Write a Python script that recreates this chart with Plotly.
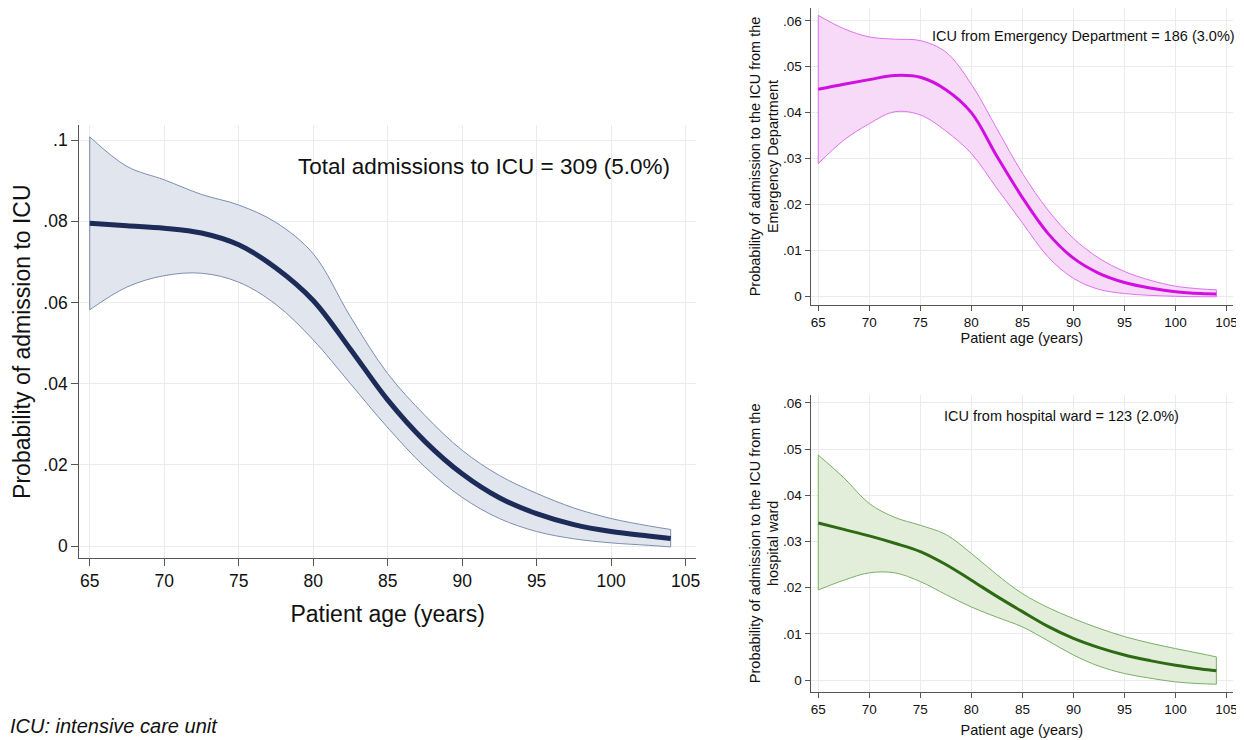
import plotly.graph_objects as go

ages = [65, 67.5, 70, 72.5, 75, 77.5, 80, 82.5, 85, 87.5, 90, 92.5, 95, 97.5, 100, 102.5, 104]

total_est = [0.0795, 0.0789, 0.0783, 0.0771, 0.0742, 0.0685, 0.0605, 0.0485, 0.0360, 0.0258, 0.0178,
             0.0119, 0.0080, 0.0053, 0.0036, 0.0025, 0.0019]
total_hi = [0.1008, 0.0935, 0.0902, 0.0866, 0.0840, 0.0797, 0.0720, 0.0565, 0.0425, 0.0322, 0.0236,
            0.0174, 0.0130, 0.0094, 0.0068, 0.0050, 0.0041]
total_lo = [0.0582, 0.0638, 0.0666, 0.0672, 0.0650, 0.0595, 0.0508, 0.0400, 0.0292, 0.0195, 0.0120,
            0.0068, 0.0036, 0.0018, 0.0008, 0.0002, -0.0002]

ed_est = [0.0451, 0.0462, 0.0472, 0.0481, 0.0477, 0.0450, 0.0400, 0.0305, 0.0215, 0.0137, 0.0083,
          0.0050, 0.0030, 0.0018, 0.0010, 0.0006, 0.0005]
ed_hi = [0.0612, 0.0583, 0.0565, 0.0560, 0.0557, 0.0532, 0.0462, 0.0365, 0.0268, 0.0188, 0.0126,
         0.0083, 0.0054, 0.0035, 0.0022, 0.0016, 0.0014]
ed_lo = [0.0289, 0.0340, 0.0376, 0.0402, 0.0395, 0.0360, 0.0311, 0.0235, 0.0160, 0.0086, 0.0039,
         0.0015, 0.0006, 0.0002, 0.0000, -0.0001, -0.0001]

ward_est = [0.0340, 0.0326, 0.0312, 0.0296, 0.0278, 0.0250, 0.0216, 0.0181, 0.0148, 0.0116, 0.0090,
            0.0070, 0.0054, 0.0042, 0.0032, 0.0024, 0.0020]
ward_hi = [0.0487, 0.0438, 0.0382, 0.0352, 0.0335, 0.0315, 0.0274, 0.0228, 0.0187, 0.0157, 0.0133,
           0.0112, 0.0094, 0.0080, 0.0068, 0.0057, 0.0050]
ward_lo = [0.0195, 0.0216, 0.0232, 0.0232, 0.0213, 0.0185, 0.0158, 0.0136, 0.0115, 0.0085, 0.0054,
           0.0030, 0.0014, 0.0004, -0.0004, -0.0008, -0.0009]

x_ticks = [65, 70, 75, 80, 85, 90, 95, 100, 105]
total_yticks = [0, 0.02, 0.04, 0.06, 0.08, 0.1]
total_ytext = ["0", ".02", ".04", ".06", ".08", ".1"]
sub_yticks = [0, 0.01, 0.02, 0.03, 0.04, 0.05, 0.06]
sub_ytext = ["0", ".01", ".02", ".03", ".04", ".05", ".06"]

FONT = "Liberation Sans, Arial, sans-serif"
TXT = "#111111"

# The page body has an 8px default margin; the figure is sized to fill the rest of the window.
OFF = 8
W, H = 1244 - OFF, 740 - OFF


def px(x):
    return min(1.0, max(0.0, (x - OFF) / W))


def py(y):
    return min(1.0, max(0.0, 1 - (y - OFF) / H))


fig = go.Figure()


def add_panel(xa, ya, est, hi, lo, line_col, fill_col, edge_col, lw):
    xr = "x" + xa
    yr = "y" + ya
    fig.add_trace(go.Scatter(x=ages, y=hi, mode="lines", line=dict(color=edge_col, width=1, shape="spline"),
                             xaxis=xr, yaxis=yr, showlegend=False, hoverinfo="skip"))
    fig.add_trace(go.Scatter(x=ages, y=lo, mode="lines", line=dict(color=edge_col, width=1, shape="spline"),
                             fill="tonexty", fillcolor=fill_col,
                             xaxis=xr, yaxis=yr, showlegend=False, hoverinfo="skip"))
    for i in (0, -1):
        fig.add_trace(go.Scatter(x=[ages[i], ages[i]], y=[lo[i], hi[i]], mode="lines",
                                 line=dict(color=edge_col, width=1),
                                 xaxis=xr, yaxis=yr, showlegend=False, hoverinfo="skip"))
    fig.add_trace(go.Scatter(x=ages, y=est, mode="lines", line=dict(color=line_col, width=lw, shape="spline"),
                             xaxis=xr, yaxis=yr, showlegend=False))


add_panel("", "", total_est, total_hi, total_lo, "#1c2b58", "rgba(225,230,238,1)", "#7d8db0", 5)
add_panel("2", "2", ed_est, ed_hi, ed_lo, "#d010e0", "rgba(246,218,248,1)", "#e070f0", 3)
add_panel("3", "3", ward_est, ward_hi, ward_lo, "#2e6a14", "rgba(226,238,218,1)", "#78b066", 3)

axis_common = dict(showline=True, linecolor="#555555", linewidth=1.3, ticks="outside",
                   tickcolor="#555555", showgrid=True, gridcolor="#ebebeb", gridwidth=1,
                   zeroline=False, mirror=False, automargin=False)

SUB = 14.5

fig.update_layout(
    width=W, height=H,
    margin=dict(l=0, r=0, t=0, b=0),
    paper_bgcolor="white", plot_bgcolor="white",
    font=dict(family=FONT, color=TXT),
    xaxis=dict(domain=[px(79.3), px(696)], range=[64.3, 105.7], tickvals=x_ticks, ticklen=7,
               tickfont=dict(size=17.5), anchor="y",
               title=dict(text="Patient age (years)", font=dict(size=23), standoff=15), **axis_common),
    yaxis=dict(domain=[py(558.3), py(125)], range=[-0.0030, 0.1037], tickvals=total_yticks,
               ticktext=total_ytext, ticklen=7, tickfont=dict(size=17.5), anchor="x",
               title=dict(text="Probability of admission to ICU", font=dict(size=23), standoff=6), **axis_common),
    xaxis2=dict(domain=[px(810.7), px(1233)], range=[64.26, 105.63], tickvals=x_ticks, ticklen=5,
                tickfont=dict(size=13.5), anchor="y2",
                title=dict(text="Patient age (years)", font=dict(size=SUB), standoff=3), **axis_common),
    yaxis2=dict(domain=[py(305), py(8)], range=[-0.0019, 0.0628], tickvals=sub_yticks,
                ticktext=sub_ytext, ticklen=5, tickfont=dict(size=13.5), anchor="x2",
                title=dict(text="Probability of admission to the ICU from the<br>Emergency Department",
                           font=dict(size=SUB), standoff=0), **axis_common),
    xaxis3=dict(domain=[px(810.7), px(1233)], range=[64.26, 105.63], tickvals=x_ticks, ticklen=5,
                tickfont=dict(size=13.5), anchor="y3",
                title=dict(text="Patient age (years)", font=dict(size=SUB), standoff=8), **axis_common),
    yaxis3=dict(domain=[py(691.7), py(395)], range=[-0.00253, 0.0617], tickvals=sub_yticks,
                ticktext=sub_ytext, ticklen=5, tickfont=dict(size=13.5), anchor="x3",
                title=dict(text="Probability of admission to the ICU from the<br>hospital ward",
                           font=dict(size=SUB), standoff=0), **axis_common),
)

fig.add_annotation(text="Total admissions to ICU = 309 (5.0%)", xref="paper", yref="paper",
                   x=px(672), y=py(167), xanchor="right", yanchor="middle",
                   showarrow=False, font=dict(size=22.5, family=FONT, color=TXT))
fig.add_annotation(text="ICU from Emergency Department = 186 (3.0%)", xref="paper", yref="paper",
                   x=px(1237), y=py(36), xanchor="right", yanchor="middle",
                   showarrow=False, font=dict(size=SUB, family=FONT, color=TXT))
fig.add_annotation(text="ICU from hospital ward = 123 (2.0%)", xref="paper", yref="paper",
                   x=px(942), y=py(416), xanchor="left", yanchor="middle",
                   showarrow=False, font=dict(size=SUB, family=FONT, color=TXT))
fig.add_annotation(text="<i>ICU: intensive care unit</i>", xref="paper", yref="paper",
                   x=px(8), y=py(739), xanchor="left", yanchor="bottom",
                   showarrow=False, font=dict(size=20, family=FONT, color=TXT))

fig.write_html("out.html")
